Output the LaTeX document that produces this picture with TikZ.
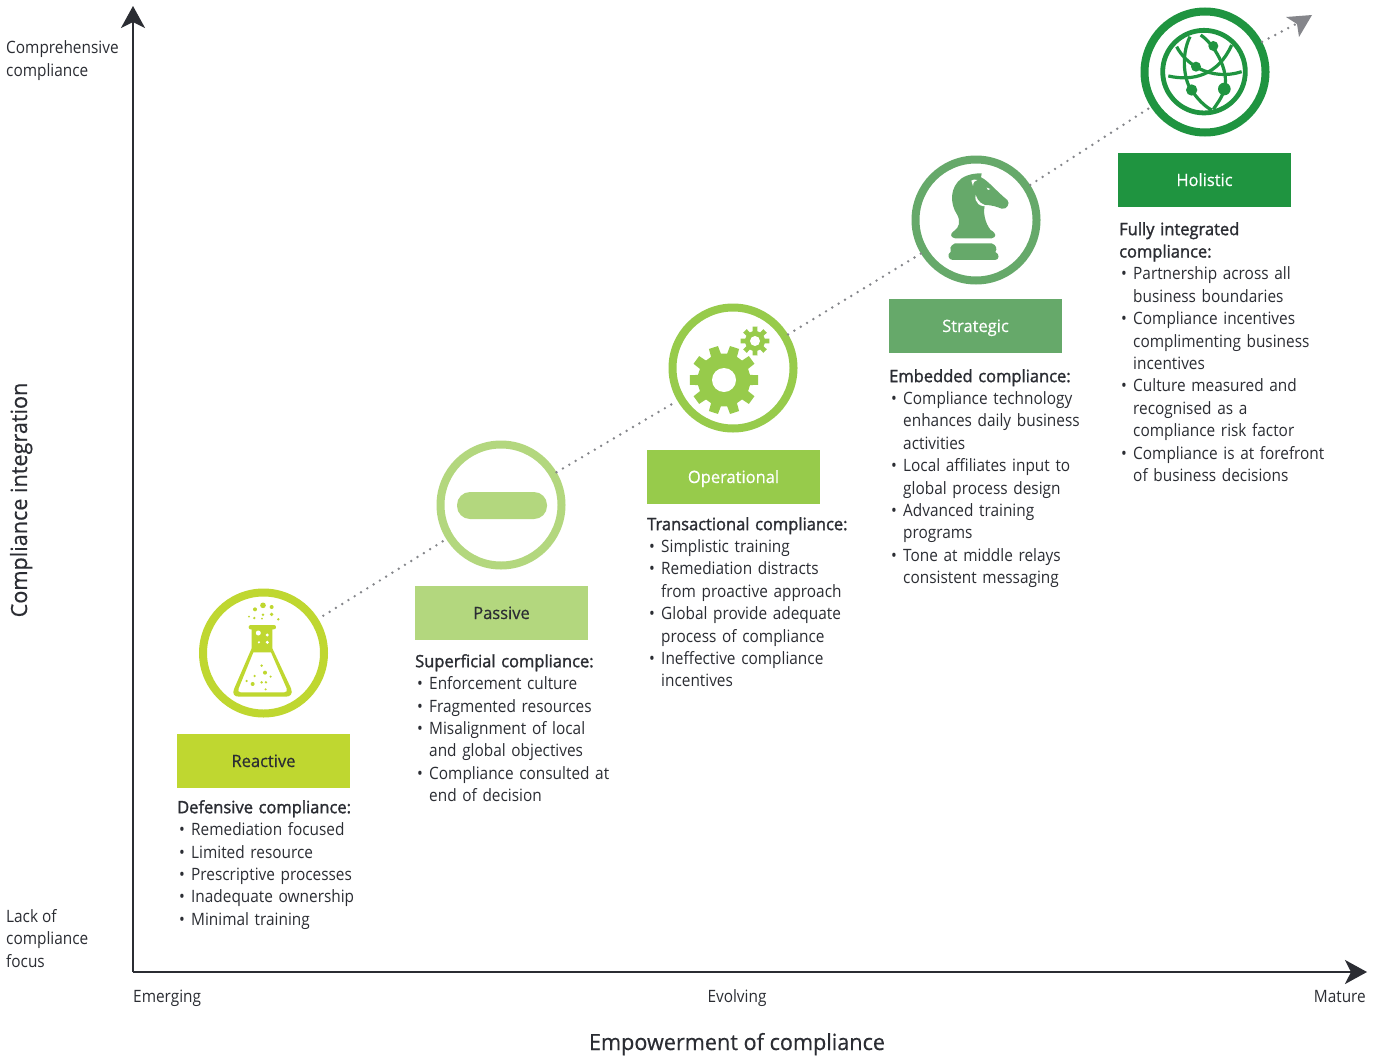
\documentclass[tikz,border=0pt]{standalone}
\usepackage{fontspec}
\setmainfont{Open Sans}[FakeStretch=0.905]
\newfontfamily\semi[FakeBold=1.6,FakeStretch=0.97]{Open Sans}
\newfontfamily\medi[FakeBold=0.5,FakeStretch=0.97]{Open Sans}
\usetikzlibrary{arrows.meta}
\definecolor{ca}{HTML}{BFD730}
\definecolor{cb}{HTML}{B3D77E}
\definecolor{cc}{HTML}{97CB4B}
\definecolor{cd}{HTML}{66A96A}
\definecolor{ce}{HTML}{1F9440}
\definecolor{ink}{HTML}{2B2D33}
\definecolor{gr}{HTML}{85868B}
\newcommand{\ul}[1]{\par\noindent\makebox[14pt][l]{\hspace{2pt}•}#1}
\newcommand{\uc}[1]{\par\noindent\hspace*{14pt}#1}
\newcommand{\gearpath}[5]{%
 \pgfmathsetmacro{\ga}{0.44*180/#5}\pgfmathsetmacro{\gb}{0.62*180/#5}\pgfmathsetmacro{\gs}{360/#5}
 \fill[cc] ({#1+#4*cos(-\gb)},{#2+#4*sin(-\gb)}) \foreach \i in {1,...,#5}{
   -- ({#1+#3*cos((\i-1)*\gs-\ga)},{#2+#3*sin((\i-1)*\gs-\ga)})
   -- ({#1+#3*cos((\i-1)*\gs+\ga)},{#2+#3*sin((\i-1)*\gs+\ga)})
   -- ({#1+#4*cos((\i-1)*\gs+\gb)},{#2+#4*sin((\i-1)*\gs+\gb)})
   -- ({#1+#4*cos(\i*\gs-\gb)},{#2+#4*sin(\i*\gs-\gb)})
 } -- cycle;}
\tikzset{
 ring/.style={circle,draw=#1,line width=8pt,fill=white,minimum size=121pt,inner sep=0pt},
 stage/.style={fill=#1,minimum width=173pt,minimum height=54pt,inner sep=0pt,text height=14pt,text depth=2pt,font=\fontsize{17}{20}\selectfont\medi},
 body/.style={anchor=north west,inner sep=0pt,text width=260pt,align=left,text=ink,font=\fontsize{17}{22.4}\selectfont},
 lab/.style={anchor=north west,inner sep=0pt,align=left,text=ink,font=\fontsize{17}{22.4}\selectfont},
 axlab/.style={font=\fontsize{22.3}{26}\selectfont\medi,text=ink,inner sep=0pt},
 axis/.style={line width=2pt,draw=ink,-{Stealth[length=22pt,width=24pt,inset=6pt]}},
 trend/.style={gr,line width=2.7pt,dash pattern=on 0pt off 7.4pt,line cap=round},
}
\begin{document}
\begin{tikzpicture}[x=1pt,y=-1pt]
\useasboundingbox (0,0) rectangle (1383,1057);
\fill[white] (0,0) rectangle (1383,1057);
\coordinate (o) at (133,972);
\coordinate (yt) at (133,6);
\coordinate (xt) at (1367,972);
\draw[axis] (o) -- (yt);
\draw[axis] (o) -- (xt);
% rings
\node[ring=ca] (r1) at (263.5,653) {};
\node[ring=cb] (r2) at (501,505) {};
\node[ring=cc] (r3) at (733,368) {};
\node[ring=cd] (r4) at (976,220) {};
\node[ring=ce] (r5) at (1205,72) {};
\coordinate (tip) at (1296,24);
\draw[trend,shorten <=6pt] (r1) -- (r2);
\draw[trend] (r2) -- (r3);
\draw[trend] (r3) -- (r4);
\draw[trend] (r4) -- (r5);
\draw[trend] (r5) -- (tip);
\fill[gr] (1286,17) -- (1312,15) -- (1299,37) -- (1297,24) -- cycle;
% flask
\begin{scope}[shift={(190,580)},x=.3333pt,y=-.3333pt]
\fill[ca,even odd rule] (182,135) -- (252,135) .. controls (260,135) and (260,148) .. (252,148) -- (247,148) -- (247,205)
  -- (303,325) .. controls (310,342) and (300,350) .. (288,350) -- (147,350) .. controls (133,350) and (125,342) .. (133,325)
  -- (185,205) -- (185,148) -- (182,148) .. controls (174,148) and (174,135) .. (182,135) -- cycle
  (190,217) -- (243,217) -- (290,325) .. controls (293,333) and (290,337) .. (283,337) -- (152,337) .. controls (146,337) and (142,333) .. (146,325) -- cycle;
\foreach \a/\b/\c in {205/159/7.5,232/165/5,207/187/3.5,232/187/5}{\fill[white] (\a,\b) circle[radius=\c*1pt/3];}
\foreach \a/\b/\c in {219/76/8.5,245/81/6,195/88/6,245/103/5.5,219/104/4,193/114/4,216/116/3,265/118/4,177/110/3,
 215/257/4,225/278/6,194/288/4,242/290/3.5,170/303/3.5,188/312/6,215/307/4,228/307/4,227/328/3.5}{\fill[ca] (\a,\b) circle[radius=\c*1pt/3];}
\end{scope}
% pill
\fill[cb,rounded corners=13pt] (457,492) rectangle (547,519);
% gears
\gearpath{724}{380}{34.5}{26.5}{10}
\fill[white] (724,380) circle[radius=12pt];
\gearpath{755}{341}{14.5}{10}{8}
\fill[white] (755,341) circle[radius=5pt];
% knight
\begin{scope}[shift={(900,150)},x=.3333pt,y=-.3333pt]
\fill[cd] (158,330) .. controls (145,330) and (140,312) .. (152,306) .. controls (150,298) and (148,288) .. (165,280) -- (275,280)
  .. controls (290,285) and (292,298) .. (286,306) .. controls (300,312) and (298,330) .. (285,330) -- cycle;
\fill[cd] (165,265) .. controls (150,262) and (150,250) .. (162,243) .. controls (178,232) and (182,215) .. (172,195)
  .. controls (148,160) and (150,110) .. (185,85) .. controls (205,72) and (225,70) .. (245,70) -- (243,82)
  .. controls (265,92) and (285,120) .. (322,150) .. controls (332,160) and (320,180) .. (305,176)
  .. controls (290,170) and (275,165) .. (255,165) .. controls (248,185) and (255,220) .. (272,240)
  .. controls (290,250) and (290,262) .. (275,265) -- cycle;
\fill[white] (227,135) .. controls (222,158) and (240,174) .. (270,168) .. controls (245,166) and (234,155) .. (227,135) -- cycle;
\fill[white] (214,92) .. controls (218,88) and (225,88) .. (232,90) .. controls (224,91) and (220,97) .. (219,108) -- cycle;
\fill[white] (260,113) -- (271,117) -- (264,120) -- cycle;
\end{scope}
% globe
\begin{scope}[shift={(1130,0)},x=.3333pt,y=-.3333pt]
\draw[ce,line width=4.8pt] (222,215) circle[radius=41.3pt];
\begin{scope}[ce,line width=3.2pt]
\draw (115,228) .. controls (190,245) and (265,225) .. (305,135);
\draw (140,140) .. controls (165,190) and (240,245) .. (335,215);
\draw (180,110) .. controls (150,170) and (165,250) .. (185,270) .. controls (200,295) and (225,320) .. (245,330);
\draw (212,105) .. controls (250,130) and (300,210) .. (283,267) .. controls (278,290) and (262,310) .. (250,328);
\end{scope}
\foreach \a/\b/\c in {250/138/15,198/200/15,185/270/17,283/267/19}{\fill[ce] (\a,\b) circle[radius=\c*1pt/3];}
\end{scope}
% stage boxes
\node[stage=ca,text=ink] (s1) at (263.5,761) {Reactive};
\node[stage=cb,text=ink] (s2) at (501.5,613) {Passive};
\node[stage=cc,text=white] (s3) at (733.5,477) {Operational};
\node[stage=cd,text=white] (s4) at (975.5,326) {Strategic};
\node[stage=ce,text=white] (s5) at (1204.5,180) {Holistic};
% bodies
\node[body] (t1) at (177,800) {{\semi Defensive compliance:}\ul{Remediation focused}\ul{Limited resource}\ul{Prescriptive processes}\ul{Inadequate ownership}\ul{Minimal training}};
\node[body] (t2) at (415,654) {{\semi Superficial compliance:}\ul{Enforcement culture}\ul{Fragmented resources}\ul{Misalignment of local}\uc{and global objectives}\ul{Compliance consulted at}\uc{end of decision}};
\node[body] (t3) at (647,517) {{\semi Transactional compliance:}\ul{Simplistic training}\ul{Remediation distracts}\uc{from proactive approach}\ul{Global provide adequate}\uc{process of compliance}\ul{Ineffective compliance}\uc{incentives}};
\node[body] (t4) at (889,369) {{\semi Embedded compliance:}\ul{Compliance technology}\uc{enhances daily business}\uc{activities}\ul{Local affiliates input to}\uc{global process design}\ul{Advanced training}\uc{programs}\ul{Tone at middle relays}\uc{consistent messaging}};
\node[body] (t5) at (1119,222) {{\semi Fully integrated}\par\noindent{\semi compliance:}\ul{Partnership across all}\uc{business boundaries}\ul{Compliance incentives}\uc{complimenting business}\uc{incentives}\ul{Culture measured and}\uc{recognised as a}\uc{compliance risk factor}\ul{Compliance is at forefront}\uc{of business decisions}};
% axis labels
\node[lab] (l1) at (6,40.5) {Comprehensive\\compliance};
\node[lab] (l2) at (6,909) {Lack of\\compliance\\focus};
\node[lab,anchor=base west] (l3) at (133,1002) {Emerging};
\node[lab,anchor=base] (l4) at (737,1002) {Evolving};
\node[lab,anchor=base east] (l5) at (1366,1002) {Mature};
\node[axlab,anchor=base] (l6) at (737,1050) {Empowerment of compliance};
\node[axlab,anchor=base,rotate=90] (l7) at (27,500) {Compliance integration};
\end{tikzpicture}
\end{document}
